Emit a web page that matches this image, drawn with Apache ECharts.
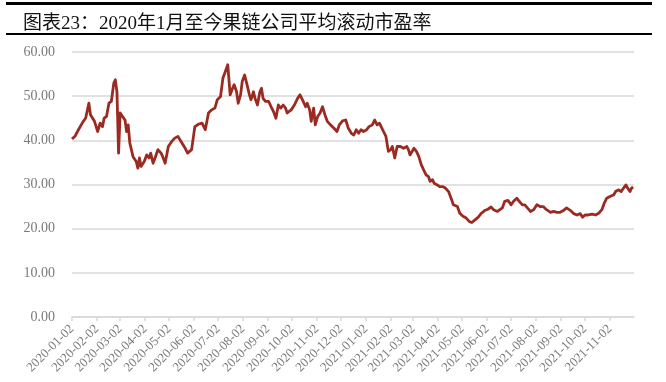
<!DOCTYPE html>
<html>
<head>
<meta charset="utf-8">
<script src="https://cdn.jsdelivr.net/npm/echarts@6/dist/echarts.min.js"></script>
<style>html,body{margin:0;padding:0;background:#fff;}#c{width:666px;height:382px;}</style>
</head>
<body>
<div id="c"></div>
<script>
const titleText = '图表23：2020年1月至今果链公司平均滚动市盈率';
const tickLabels = ['2020-01-02','2020-02-02','2020-03-02','2020-04-02','2020-05-02','2020-06-02','2020-07-02','2020-08-02','2020-09-02','2020-10-02','2020-11-02','2020-12-02','2021-01-02','2021-02-02','2021-03-02','2021-04-02','2021-05-02','2021-06-02','2021-07-02','2021-08-02','2021-09-02','2021-10-02','2021-11-02'];
const dates = ['2020-01-02','2020-01-06','2020-01-10','2020-01-16','2020-01-19','2020-01-23','2020-01-25','2020-01-30','2020-02-03','2020-02-06','2020-02-09','2020-02-11','2020-02-14','2020-02-17','2020-02-20','2020-02-23','2020-02-25','2020-02-27','2020-02-29','2020-03-02','2020-03-05','2020-03-08','2020-03-10','2020-03-12','2020-03-14','2020-03-18','2020-03-20','2020-03-22','2020-03-24','2020-03-26','2020-03-28','2020-04-01','2020-04-04','2020-04-07','2020-04-09','2020-04-12','2020-04-15','2020-04-18','2020-04-22','2020-04-24','2020-04-27','2020-05-01','2020-05-05','2020-05-09','2020-05-13','2020-05-17','2020-05-22','2020-05-25','2020-05-30','2020-06-03','2020-06-08','2020-06-12','2020-06-16','2020-06-20','2020-06-24','2020-06-28','2020-07-01','2020-07-05','2020-07-08','2020-07-11','2020-07-14','2020-07-17','2020-07-20','2020-07-22','2020-07-25','2020-07-27','2020-07-30','2020-08-01','2020-08-04','2020-08-07','2020-08-10','2020-08-12','2020-08-15','2020-08-17','2020-08-20','2020-08-23','2020-08-25','2020-08-27','2020-08-30','2020-09-03','2020-09-06','2020-09-09','2020-09-12','2020-09-15','2020-09-18','2020-09-21','2020-09-24','2020-09-26','2020-10-01','2020-10-05','2020-10-09','2020-10-12','2020-10-16','2020-10-19','2020-10-21','2020-10-24','2020-10-26','2020-10-29','2020-10-31','2020-11-03','2020-11-06','2020-11-09','2020-11-12','2020-11-15','2020-11-19','2020-11-23','2020-11-27','2020-11-30','2020-12-04','2020-12-08','2020-12-11','2020-12-15','2020-12-18','2020-12-21','2020-12-24','2020-12-27','2020-12-30','2021-01-03','2021-01-06','2021-01-10','2021-01-13','2021-01-16','2021-01-19','2021-01-21','2021-01-24','2021-01-27','2021-01-30','2021-02-02','2021-02-04','2021-02-07','2021-02-10','2021-02-14','2021-02-18','2021-02-22','2021-02-24','2021-02-26','2021-03-03','2021-03-06','2021-03-09','2021-03-12','2021-03-15','2021-03-18','2021-03-21','2021-03-23','2021-03-26','2021-03-28','2021-04-01','2021-04-04','2021-04-08','2021-04-11','2021-04-13','2021-04-15','2021-04-19','2021-04-21','2021-04-26','2021-04-29','2021-05-03','2021-05-07','2021-05-11','2021-05-14','2021-05-18','2021-05-22','2021-05-26','2021-05-30','2021-06-03','2021-06-07','2021-06-10','2021-06-15','2021-06-17','2021-06-21','2021-06-24','2021-06-28','2021-07-02','2021-07-05','2021-07-09','2021-07-12','2021-07-16','2021-07-19','2021-07-21','2021-07-26','2021-07-30','2021-08-03','2021-08-07','2021-08-11','2021-08-15','2021-08-20','2021-08-24','2021-08-28','2021-09-01','2021-09-05','2021-09-09','2021-09-14','2021-09-18','2021-09-22','2021-09-26','2021-09-29','2021-10-02','2021-10-06','2021-10-11','2021-10-15','2021-10-19','2021-10-23','2021-10-26','2021-10-29','2021-11-02','2021-11-07','2021-11-09','2021-11-13','2021-11-16','2021-11-19','2021-11-22','2021-11-24','2021-11-27','2021-11-29','2021-12-01'];
const peValues = [40.3,41.0,42.4,44.3,45.0,48.4,45.8,44.3,42.0,43.9,43.1,45.0,45.4,48.4,48.8,52.9,53.7,51.0,37.1,46.2,45.4,44.6,42.0,43.5,39.4,36.3,36.7,35.2,33.7,36.0,34.1,35.2,36.7,36.0,37.1,34.8,36.3,37.9,37.1,36.3,34.8,38.6,39.7,40.5,40.9,39.7,38.2,37.1,37.9,43.1,43.7,43.9,42.4,46.2,46.9,47.3,49.2,49.9,54.1,55.6,57.1,50.3,51.8,52.6,51.0,48.4,50.3,53.3,54.8,52.6,50.3,49.2,51.0,49.5,48.0,51.0,51.8,49.5,48.8,48.8,47.6,46.5,45.0,48.0,47.3,48.0,47.3,46.2,46.9,48.0,49.5,50.3,48.8,47.6,48.4,46.9,44.3,47.3,43.5,45.4,46.2,47.6,45.8,44.3,43.5,42.8,42.0,43.5,44.4,44.6,42.8,41.6,41.2,42.4,41.6,42.4,42.0,42.4,43.1,43.5,44.6,43.5,43.9,43.1,42.0,40.9,37.5,37.9,38.6,36.0,38.6,38.6,38.2,38.6,37.9,36.7,38.2,37.5,36.3,34.5,33.3,32.2,31.8,30.7,31.1,30.3,29.9,29.5,29.5,29.2,29.5,28.4,26.5,25.4,25.0,23.5,22.8,22.4,21.6,21.4,22.0,22.6,23.5,24.1,24.4,24.9,24.3,23.9,23.5,24.7,26.2,26.4,25.4,26.2,26.9,26.2,25.4,25.4,25.0,23.9,24.3,25.4,25.0,25.0,24.3,23.7,23.9,23.7,23.7,24.1,24.7,24.1,23.4,23.1,23.4,22.6,23.1,23.1,23.3,23.1,23.5,24.3,25.8,26.9,27.3,27.7,28.4,28.8,28.4,29.2,29.9,29.2,28.4,29.2,29.4];
const axisStart = '2020-01-02';
const axisEnd = '2021-12-02';

const parse = s => +echarts.time.parse(s);
const tickTimes = tickLabels.map(parse);
const seriesData = dates.map((d, i) => [parse(d), peValues[i]]);

const chart = echarts.init(document.getElementById('c'), null, {renderer: 'canvas'});
const labelFont = "'Liberation Serif', 'Noto Sans CJK SC', serif";
chart.setOption({
  animation: false,
  backgroundColor: '#ffffff',
  title: {
    text: titleText,
    left: 18,
    top: 10,
    textStyle: {fontFamily: "'Liberation Serif', 'Noto Sans CJK SC', serif", fontSize: 19, fontWeight: 'normal', color: '#111'}
  },
  graphic: [
    {type: 'rect', left: 6, top: 2, shape: {width: 646, height: 3}, style: {fill: '#000'}},
    {type: 'rect', left: 6, top: 33, shape: {width: 646, height: 2}, style: {fill: '#000'}}
  ],
  grid: {left: 72, right: 32, top: 52, bottom: 65, containLabel: false},
  xAxis: {
    type: 'value',
    min: parse(axisStart),
    max: parse(axisEnd),
    axisLine: {show: true, lineStyle: {color: '#d9d9d9', width: 1.5}},
    axisTick: {show: true, customValues: tickTimes, length: 4, inside: false, lineStyle: {color: '#d9d9d9', width: 1.5}},
    axisLabel: {
      customValues: tickTimes,
      rotate: 45,
      margin: 10,
      color: '#7a7a7a',
      fontFamily: labelFont,
      fontSize: 13,
      showMinLabel: true,
      formatter: function (v) {
        const i = tickTimes.indexOf(v);
        return i >= 0 ? tickLabels[i] : '';
      }
    },
    splitLine: {show: false}
  },
  yAxis: {
    type: 'value',
    min: 0,
    max: 60,
    interval: 10,
    axisLine: {show: false},
    axisTick: {show: false},
    axisLabel: {
      margin: 17,
      color: '#7a7a7a',
      fontFamily: labelFont,
      fontSize: 14,
      formatter: v => v.toFixed(2)
    },
    splitLine: {lineStyle: {color: '#d9d9d9', width: 1.5}}
  },
  series: [{
    type: 'line',
    data: seriesData,
    showSymbol: false,
    symbol: 'none',
    lineStyle: {color: '#9B2B22', width: 2.8, join: 'round'},
    itemStyle: {color: '#9B2B22'}
  }]
});
</script>
</body>
</html>
